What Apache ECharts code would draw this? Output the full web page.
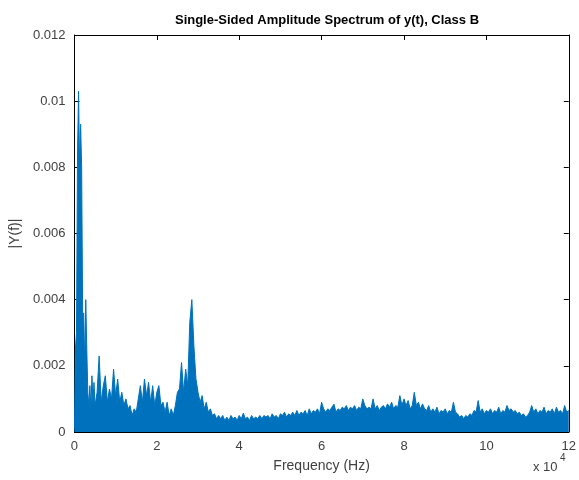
<!DOCTYPE html>
<html>
<head>
<meta charset="utf-8">
<script src="https://cdn.jsdelivr.net/npm/echarts@6/dist/echarts.min.js"></script>
<style>html,body{margin:0;padding:0;background:#fff}#c{width:579px;height:480px}</style>
</head>
<body>
<div id="c"></div>
<script>
// Amplitudes in units of 1e-4
const lowBandStepHz = 250; // 0 .. 5000 Hz
const lowBandAmpE4 = [1, 25, 30, 84, 103, 80, 93, 80, 35, 36, 20, 40, 25, 12, 8, 14, 7, 17, 9, 15, 8];
const mainStartHz = 5500;
const mainStepHz = 500; // 5500 .. 120000 Hz
const mainAmpE4 = [
  12, 23, 9, 14, 17, 9, 13, 10, 19, 11,
  16, 9, 12, 8, 10, 7, 8, 5, 7, 6,
  10, 14, 9, 16, 11, 15, 9, 14, 8, 12,
  14, 8, 9, 6, 9, 5, 7, 5, 8, 12,
  13, 21, 12, 19, 14, 33, 40, 26, 16, 12,
  9, 11, 7, 9, 6, 7, 5, 5.5, 4, 5,
  4, 5, 3.5, 4.5, 3.5, 5, 4, 4.5, 3.5, 5,
  4, 5.7, 4, 4.5, 3.5, 5, 4, 4.5, 4, 5,
  4, 5, 4.5, 5, 4, 5.5, 4.5, 5, 4, 5.5,
  5, 6, 4.5, 5.5, 5, 6, 5, 6.5, 5, 6,
  5.5, 6.5, 5, 7, 5.5, 6.5, 6, 7, 5.5, 9,
  7, 6, 7, 6.5, 7.5, 8.4, 6, 7, 6.5, 7.5,
  7, 8, 6.5, 7.5, 7, 8, 6.5, 7.5, 7, 10,
  8, 7, 7.5, 7, 10, 7, 8, 6.5, 7.5, 8,
  7, 8.5, 7.5, 9, 7, 8, 7.5, 11, 8, 10,
  8, 9.5, 7, 8, 12, 8, 9, 7, 8.5, 7,
  6.5, 8, 6, 7, 6, 7.5, 5.5, 6.5, 6, 7,
  5.5, 6.5, 6, 9, 6, 5.5, 4.5, 5, 4, 5,
  4.5, 5.5, 5, 6.5, 6, 9.5, 6, 7, 5.5, 6.5,
  6, 7, 5.5, 6.5, 6, 7.5, 5.5, 6.5, 6, 8,
  6.5, 7, 6, 6.5, 5.5, 6, 5, 5.5, 4.5, 5,
  6, 8, 6, 7, 5.5, 6.5, 6, 7.5, 5.5, 6.5,
  6, 7, 5.5, 7.5, 6, 6.5, 5.5, 8, 6, 6.5
];
const xTickLabels = ['0', '2', '4', '6', '8', '10', '12'];
const yTickLabels = ['0', '0.002', '0.004', '0.006', '0.008', '0.01', '0.012'];

const data = lowBandAmpE4.map((v, i) => [i * lowBandStepHz, v * 1e-4])
  .concat(mainAmpE4.map((v, i) => [mainStartHz + i * mainStepHz, v * 1e-4]));

const font = 'Liberation Sans, Arial, sans-serif';
const txt = '#404040';
const chart = echarts.init(document.getElementById('c'), null, {renderer: 'canvas'});
const axisBase = {
  type: 'value', splitLine: {show: false},
  axisLine: {show: true, onZero: false, lineStyle: {color: '#000', width: 1}},
  axisTick: {show: true, inside: true, length: 5, lineStyle: {color: '#000'}}
};
chart.setOption({
  animation: false,
  backgroundColor: '#fff',
  title: {
    text: 'Single-Sided Amplitude Spectrum of y(t), Class B',
    left: 322, top: 9, textAlign: 'center',
    textStyle: {fontFamily: font, fontSize: 13, fontWeight: 'bold', color: '#000'}
  },
  grid: {left: 72, right: 7, top: 35, bottom: 48},
  xAxis: [
    Object.assign({}, axisBase, {
      min: 0, max: 120000, interval: 20000, position: 'bottom',
      name: 'Frequency (Hz)', nameLocation: 'middle', nameGap: 27,
      nameTextStyle: {fontFamily: font, fontSize: 14, color: txt},
      axisLabel: {margin: 8, fontFamily: font, fontSize: 13, color: txt,
        formatter: v => xTickLabels[Math.round(v / 20000)]}
    }),
    Object.assign({}, axisBase, {
      min: 0, max: 120000, interval: 20000, position: 'top', axisLabel: {show: false}
    })
  ],
  yAxis: [
    Object.assign({}, axisBase, {
      min: 0, max: 0.012, interval: 0.002, position: 'left',
      name: '|Y(f)|', nameLocation: 'middle', nameGap: 46, nameRotate: 90,
      nameTextStyle: {fontFamily: font, fontSize: 14, color: txt},
      axisLabel: {margin: 9, fontFamily: font, fontSize: 13, color: txt,
        formatter: v => yTickLabels[Math.round(v / 0.002)]}
    }),
    Object.assign({}, axisBase, {
      min: 0, max: 0.012, interval: 0.002, position: 'right', axisLabel: {show: false}
    })
  ],
  graphic: [
    {type: 'text', left: 533, top: 461, style: {text: 'x 10', font: '13px ' + font, fill: txt}},
    {type: 'text', left: 560, top: 453, style: {text: '4', font: '10px ' + font, fill: txt}}
  ],
  series: [{
    type: 'line', xAxisIndex: 0, yAxisIndex: 0, data: data,
    showSymbol: false, symbol: 'none',
    lineStyle: {color: '#0072BD', width: 1},
    areaStyle: {color: '#0072BD', opacity: 1},
    z: 1
  }]
});
</script>
</body>
</html>
